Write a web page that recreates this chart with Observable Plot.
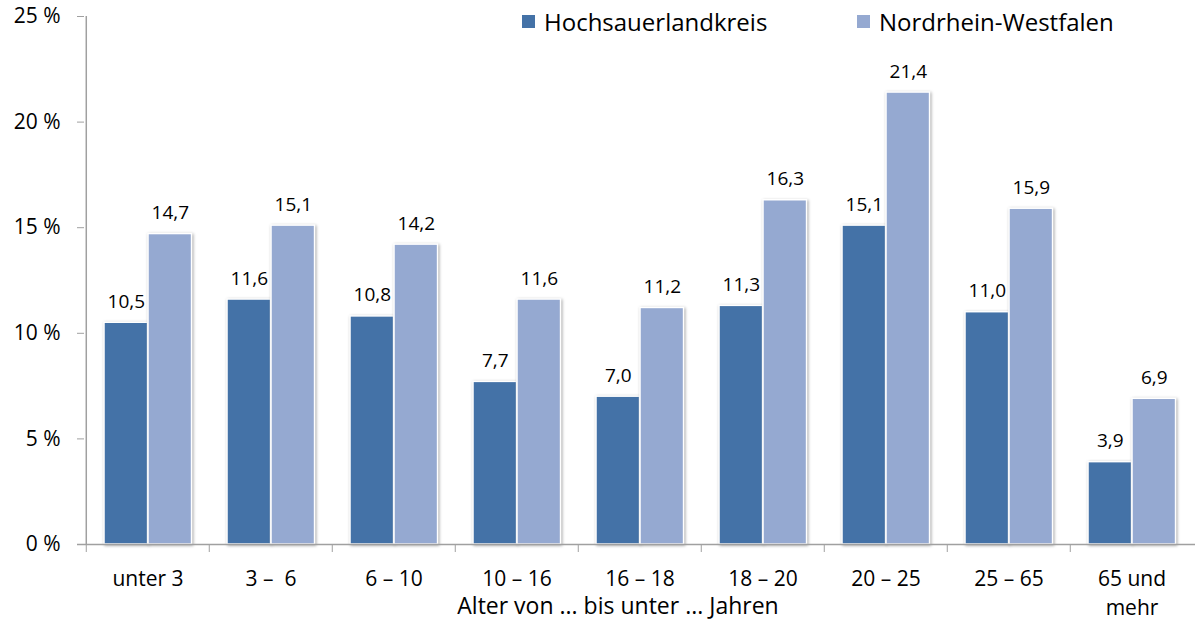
<!DOCTYPE html>
<html><head><meta charset="utf-8">
<script src="https://cdn.jsdelivr.net/npm/d3@7"></script>
<script src="https://cdn.jsdelivr.net/npm/@observablehq/plot@0.6"></script>
<style>
body{margin:0;background:#fff;font-family:"Open Sans",sans-serif}
#wrap{position:relative;width:1195px;height:621px}
.leg{position:absolute;top:5px;display:flex;align-items:center;font-size:24px;color:#000;white-space:nowrap}
.sw{width:13px;height:13px;margin-right:9px}
</style>
</head><body><div id="wrap"></div>
<script>
const categories = ["unter 3","3 –  6","6 – 10","10 – 16","16 – 18","18 – 20","20 – 25","25 – 65","65 und\nmehr"];
const series = ["Hochsauerlandkreis","Nordrhein-Westfalen"];
const hsk = [10.5,11.6,10.8,7.7,7.0,11.3,15.1,11.0,3.9];
const nrw = [14.7,15.1,14.2,11.6,11.2,16.3,21.4,15.9,6.9];
const yTicks = [0,5,10,15,20,25];
const colors = ["#4472a7","#95a9d1"];
const axisTitle = "Alter von ... bis unter ... Jahren";

const W = 1195, H = 621, ML = 84, MR = 0, MT = 16, MB = 77;
const bw = (W - ML - MR) / categories.length;
const fmt = v => v.toFixed(1).replace(".", ",");

const rowsH = categories.map((c, i) => ({cat: c, value: hsk[i]}));
const rowsN = categories.map((c, i) => ({cat: c, value: nrw[i]}));

const darkL = 18, barW = 44;
const lightL = darkL + barW;
const darkC = darkL + barW / 2 - bw / 2;
const lightC = lightL + barW / 2 - bw / 2;

const chart = Plot.plot({
  width: W, height: H,
  marginLeft: ML, marginRight: MR, marginTop: MT, marginBottom: MB,
  style: {fontFamily: "Open Sans, sans-serif", fontSize: "21px", color: "#000", background: "#fff"},
  x: {domain: categories, padding: 0, axis: null},
  y: {domain: [0, 25], axis: null},
  marks: [
    Plot.barY(rowsH, {x: "cat", y: "value", fill: colors[0], stroke: "#fff", strokeWidth: 1.5,
      insetLeft: darkL, insetRight: bw - darkL - barW}),
    Plot.barY(rowsN, {x: "cat", y: "value", fill: colors[1], stroke: "#fff", strokeWidth: 1.5,
      insetLeft: lightL, insetRight: bw - lightL - barW}),
    Plot.text(rowsH, {x: "cat", y: "value", text: d => fmt(d.value), dx: darkC, dy: -21, fontSize: 19, fill: "#000"}),
    Plot.text(rowsN, {x: "cat", y: "value", text: d => fmt(d.value), dx: lightC, dy: -21, fontSize: 19, fill: "#000"}),
    Plot.ruleY([0], {stroke: "#a0a0a0", strokeWidth: 1.5, insetLeft: -7}),
    Plot.ruleX([categories[0]], {x: d => d, y1: 0, y2: yTicks[yTicks.length - 1], dx: -bw / 2, stroke: "#a0a0a0", strokeWidth: 1.5}),
    Plot.axisY({ticks: yTicks, tickSize: 7, tickPadding: 17, tickFormat: d => d + " %", stroke: "#a0a0a0", fontSize: 21, fill: "#000", label: null}),
    Plot.axisX({tickSize: 8, tickFormat: () => "", dx: -bw / 2, stroke: "#a0a0a0", label: null}),
    Plot.axisX({tickSize: 0, tickPadding: 21, fontSize: 21, fill: "#000", lineHeight: 1.38, label: null}),
    Plot.text([axisTitle], {frameAnchor: "bottom", dy: 69, dx: -22, fontSize: 23, fill: "#000"})
  ]
});
d3.select(chart).selectAll('g[aria-label="bar"]').style("filter", "drop-shadow(1.5px 1px 1.5px rgba(0,0,0,0.35))");

const wrap = document.getElementById("wrap");
wrap.appendChild(chart);
const legPos = [522, 857];
series.forEach((s, i) => {
  const d = document.createElement("div");
  d.className = "leg";
  d.style.left = legPos[i] + "px";
  d.innerHTML = `<div class="sw" style="background:${colors[i]}"></div><span>${s}</span>`;
  wrap.appendChild(d);
});
</script>
</body></html>
